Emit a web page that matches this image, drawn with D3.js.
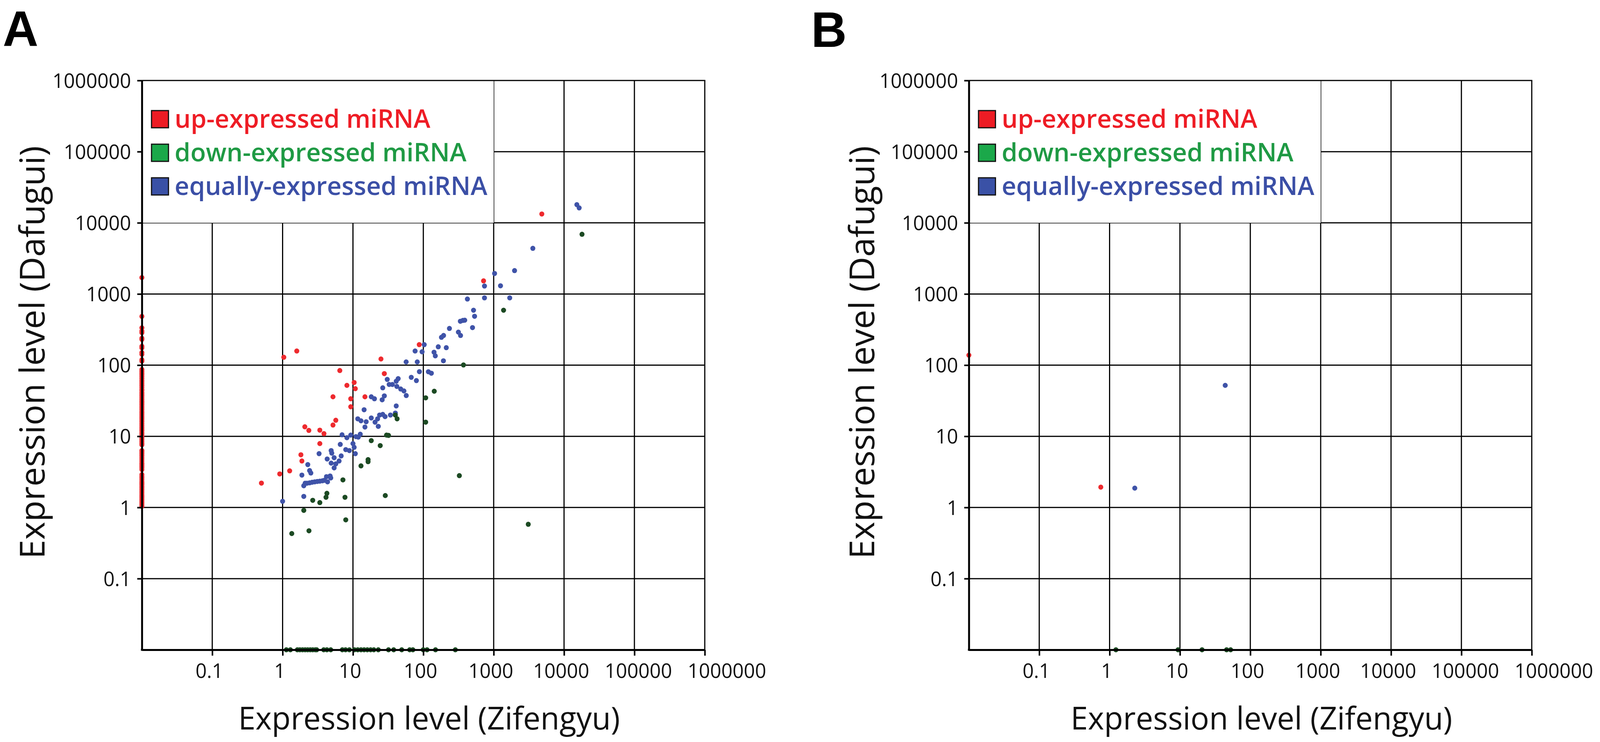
<!DOCTYPE html>
<html><head><meta charset="utf-8">
<script src="https://cdn.jsdelivr.net/npm/d3@7"></script>
<style>html,body{margin:0;padding:0;background:#fff;overflow:hidden;width:100%;height:100%} svg{display:block;width:100vw;height:100vh}</style>
</head><body>
<svg id="chart" viewBox="0 0 4150 1899" preserveAspectRatio="none"></svg>
<script>
// ---------- data ----------
const tickValues = [0.1, 1, 10, 100, 1000, 10000, 100000, 1000000];
const tickLabels = ["0.1", "1", "10", "100", "1000", "10000", "100000", "1000000"];
const seriesNames = ["up-expressed miRNA", "down-expressed miRNA", "equally-expressed miRNA"];
const xTitle = "Expression level (Zifengyu)";
const yTitle = "Expression level (Dafugui)";
const panelLetters = ["A", "B"];

// Panel A
const aUp = [[0.50,2.2],[0.91,2.96],[1.26,3.27],[1.82,5.5],[1.88,4.5],[2.07,13.6],[2.36,12.1],[3.38,12.2],[3.87,10.9],[3.38,7.9],[5.2,14.4],[5.7,16.8],[5.2,35.9],[6.5,84],[8.2,52],[9.3,33.7],[9.3,26],[10.4,57],[10.8,46.7],[14.8,35.9],[27.9,76],[25,122],[1.04,129],[1.59,158],[87.5,194],[718,1528],[4830,13300]];
// up-expressed with no Zifengyu reads (drawn on the y axis)
const aUpOnYAxis = [1700,484,334,301,286,239,230,184,175,150,142,119,114,87,82,77,73,69,65,61,58,55,52,49,46,44,41,39,37,35,33,31,29.5,28,26.5,25,23.5,22,21,20,19,18,17,16,15,14.2,13.4,12.7,12,11.3,10.7,10.1,9.5,9,8.5,8,7.6,6.3,6,5.7,5.4,5.1,4.8,4.5,4.2,4.0,3.8,3.6,3.4,2.9,2.75,2.6,2.45,2.3,2.2,2.1,2.0,1.9,1.8,1.7,1.6,1.5,1.42,1.35,1.28,1.21,1.15,1.09,1.04];
const aDown = [[108,34.7],[108,15.8],[40,19.9],[42.4,17.6],[30,10.4],[32,10.3],[18.2,8.7],[24.4,7.4],[16.4,4.7],[16.4,4.4],[13,3.84],[7.2,2.44],[28.8,1.47],[7.7,1.39],[4.26,1.58],[4.14,1.39],[2.68,1.26],[3.38,1.17],[2.0,0.91],[7.9,0.67],[2.37,0.47],[1.35,0.43],[143,43],[372,100.5],[1382,591],[18000,6900],[325,2.8],[3100,0.58]];
// down-expressed with no Dafugui reads (drawn on the x axis)
const aDownOnXAxis = [1.13,1.29,1.62,1.76,1.92,2.09,2.27,2.47,2.68,2.92,3.05,3.84,4.26,4.83,7.06,7.84,8.89,10.5,11.7,13,14.4,16,17.8,19.8,22.9,32,37.9,49.3,64,71,99.6,113,149,285];
const aEqual = [[88,81],[118,80.7],[30.7,63],[43.9,64.6],[41.2,59.4],[67.4,67.4],[79.7,60.6],[32.7,53.5],[36.3,53.5],[26.5,48],[42,50.2],[47.7,46.2],[53,43.4],[57.2,37.4],[18.2,35.9],[20.2,33.7],[27.9,37],[26,32.6],[41.2,26.7],[14.4,23.6],[26.5,20.3],[28.6,18.9],[34.1,19.9],[40,21.2],[23.9,19.9],[22.4,17.6],[18.2,18.1],[20.6,15.8],[22.9,13.8],[11.7,17.6],[13,16.5],[15.4,16],[14.8,13.5],[7.0,10.5],[8.2,9.55],[9.3,10.4],[11,9.9],[12.7,10.7],[11.9,9.75],[6.6,7.7],[10,7.9],[10.4,7.0],[7.9,6.5],[8.9,6.3],[10.8,5.7],[4.9,6.3],[5.0,5.8],[6.8,5.3],[5.4,5.0],[3.3,5.7],[4.3,4.8],[6.35,4.5],[4.9,4.2],[5.7,4.1],[5.4,3.6],[2.28,4.0],[2.42,3.3],[2.52,3.05],[1.88,2.85],[4.2,2.71],[4.73,2.77],[4.83,2.6],[4.35,2.29],[2.0,2.02],[2.09,2.19],[2.22,2.19],[2.42,2.22],[2.63,2.26],[2.86,2.29],[3.11,2.32],[3.38,2.34],[3.68,2.37],[3.92,2.41],[2.0,1.43],[1.0,1.22],
  [1030,1941],[740,1292],[1250,1303],[423,849],[740,882],[1690,882],[517,591],[535,486],[336,414],[365,425],[388,428],[500,337],[235,328],[315,291],[338,261],[181,246],[194,261],[103,194],[163,181],[212,176],[76.4,158],[96,154],[142,152],[148,135],[57,111],[82,111],[193,115],[130,77],
  [15200,18000],[16400,16200],[3600,4380],[1980,2130]];

// Panel B
const bUp = [[0.75,1.93]];
const bUpOnYAxis = [138];
const bDown = [];
const bDownOnXAxis = [1.23, 9.4, 20.6, 46, 52.5];
const bEqual = [[2.28,1.87],[44,52]];

// ---------- style ----------
const dotColors = {up: "#ee2a2e", down: "#1c4a23", equal: "#3f53a8"};
const legendFill = ["#ed1c24", "#1ba84a", "#3a51a6"];
const legendText = ["#ee1c25", "#1f9a44", "#3b4fa6"];
const FONT = "'Open Sans', 'DejaVu Sans', sans-serif";
const W = 4150;

const svg = d3.select("#chart");
svg.append("rect").attr("width", W).attr("height", 1899).attr("fill", "#fff");

function fit(sel, target) {
  const w = sel.node().getComputedTextLength();
  const fs = parseFloat(sel.attr("font-size"));
  sel.attr("font-size", fs * target / w);
}

function drawPanel(cfg) {
  const g = svg.append("g");
  const x = d3.scaleLog().domain([0.01, 1e6]).range([cfg.left, cfg.left + 1460]);
  const y = d3.scaleLog().domain([0.01, 1e6]).range([1663, 206]);
  const [x0, x1] = x.range(), [y0, y1] = y.range();
  const gridVals = tickValues.slice(0, -1);

  // grid
  g.append("g").selectAll("line").data(gridVals).join("line")
    .attr("x1", d => x(d)).attr("x2", d => x(d)).attr("y1", y0).attr("y2", y1)
    .attr("stroke", "#000").attr("stroke-width", 3);
  g.append("g").selectAll("line").data(gridVals).join("line")
    .attr("y1", d => y(d)).attr("y2", d => y(d)).attr("x1", x0).attr("x2", x1)
    .attr("stroke", "#000").attr("stroke-width", 3);

  // legend background (covers grid)
  g.append("rect").attr("x", x0).attr("y", y1)
    .attr("width", x(1000) - x0).attr("height", y(10000) - y1).attr("fill", "#fff");

  // top & right border
  g.append("line").attr("x1", x0).attr("x2", x1 + 1.5).attr("y1", y1).attr("y2", y1)
    .attr("stroke", "#000").attr("stroke-width", 3);
  g.append("line").attr("x1", x1).attr("x2", x1).attr("y1", y1).attr("y2", y0)
    .attr("stroke", "#000").attr("stroke-width", 3);

  // dots
  const xmin = x.domain()[0], ymin = y.domain()[0];
  const sets = [
    [cfg.equal, dotColors.equal],
    [cfg.up.concat(cfg.upOnY.map(v => [xmin, v])), dotColors.up],
    [cfg.down.concat(cfg.downOnX.map(v => [v, ymin])), dotColors.down]
  ];
  sets.forEach(([pts, col]) => {
    g.append("g").selectAll("circle").data(pts).join("circle")
      .attr("cx", d => x(d[0])).attr("cy", d => y(d[1])).attr("r", 6.5).attr("fill", col);
  });

  // axes
  const yAxis = d3.axisLeft(y).tickValues(tickValues).tickSize(12).tickSizeOuter(0).tickPadding(16)
    .tickFormat((d, i) => tickLabels[i]);
  const ya = g.append("g").attr("transform", `translate(${x0},0)`).call(yAxis);
  const xAxis = d3.axisBottom(x).tickValues(tickValues).tickSize(15).tickSizeOuter(0)
    .tickFormat((d, i) => tickLabels[i]);
  const xa = g.append("g").attr("transform", `translate(0,${y0})`).call(xAxis);
  [ya, xa].forEach(a => {
    a.attr("font-family", FONT).attr("font-size", 51);
    a.select(".domain").attr("stroke", "#000").attr("stroke-width", 5);
    a.selectAll(".tick line").attr("stroke", "#000").attr("stroke-width", 4);
    a.selectAll(".tick text").attr("fill", "#111");
  });
  ya.selectAll(".tick text").attr("dy", "0.36em");
  // x labels: baseline placement, overlap avoidance, keep inside the page
  const xt = xa.selectAll(".tick text").attr("y", 72).attr("dy", 0).attr("x", -8);
  let prevRight = -Infinity;
  xt.each(function(d) {
    const w = this.getBBox().width;
    let left = x(d) - 8 - w / 2;
    if (left < prevRight + 40) left = prevRight + 40;
    if (left + w > W - 12) left = W - 12 - w;
    d3.select(this).attr("x", left + w / 2 - x(d));
    prevRight = left + w;
  });
  // corner join
  g.append("rect").attr("x", x0 - 2.5).attr("y", y0 - 2.5).attr("width", 5).attr("height", 5).attr("fill", "#000");

  // legend
  const lg = g.append("g");
  const rows = seriesNames.map((name, i) => {
    const top = 283 + i * 86;
    lg.append("rect").attr("x", x0 + 25).attr("y", top).attr("width", 44).attr("height", 44)
      .attr("fill", legendFill[i]).attr("stroke", "#111").attr("stroke-width", 3);
    return lg.append("text").attr("x", x0 + 85).attr("y", top + 44)
      .attr("font-family", FONT).attr("font-weight", 600).attr("font-size", 66)
      .attr("fill", legendText[i]).text(name);
  });
  fit(rows[2], 811);
  const fsL = rows[2].attr("font-size");
  rows.forEach(r => r.attr("font-size", fsL));

  // titles
  const yt = g.append("text").attr("transform", `translate(${cfg.yTitleX},902) rotate(-90)`)
    .attr("text-anchor", "middle").attr("font-family", FONT).attr("font-size", 88)
    .attr("fill", "#111").text(yTitle);
  fit(yt, 1057);
  const xtt = g.append("text").attr("x", cfg.xTitleX).attr("y", 1867)
    .attr("text-anchor", "middle").attr("font-family", FONT).attr("font-size", 80)
    .attr("fill", "#111").text(xTitle);
  fit(xtt, 990);

  g.append("text").attr("x", cfg.letterX).attr("y", cfg.letterY)
    .attr("font-family", "'Liberation Sans', Arial, sans-serif").attr("font-weight", "bold")
    .attr("font-size", 128).attr("fill", "#000").text(cfg.letter);
}

drawPanel({left: 368, up: aUp, upOnY: aUpOnYAxis, down: aDown, downOnX: aDownOnXAxis, equal: aEqual,
  yTitleX: 116, xTitleX: 1113, letter: panelLetters[0], letterX: 7, letterY: 118});
drawPanel({left: 2513, up: bUp, upOnY: bUpOnYAxis, down: bDown, downOnX: bDownOnXAxis, equal: bEqual,
  yTitleX: 2267, xTitleX: 3272, letter: panelLetters[1], letterX: 2104, letterY: 120});
</script>
</body></html>
